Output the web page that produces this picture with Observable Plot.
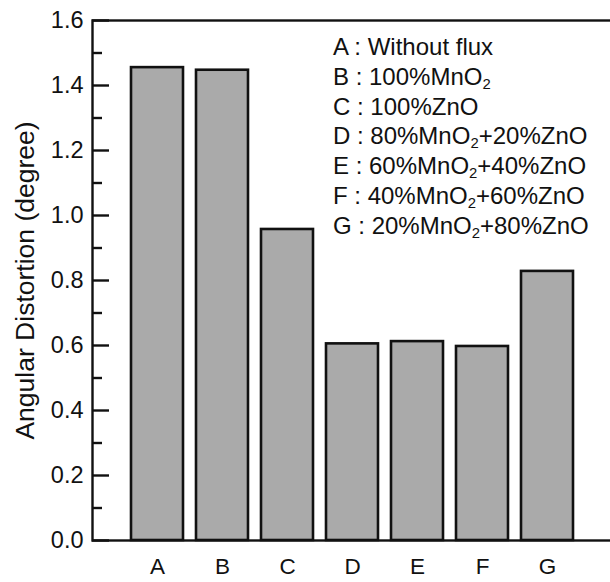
<!DOCTYPE html>
<html><head><meta charset="utf-8">
<script src="https://cdn.jsdelivr.net/npm/d3@7"></script>
<script src="https://cdn.jsdelivr.net/npm/@observablehq/plot@0.6"></script>
<style>
body{margin:0;background:#fff;}
#wrap{position:relative;width:610px;height:582px;font-family:Arial,"Liberation Sans",sans-serif;}
#legend{position:absolute;left:333px;top:32px;font-size:24px;line-height:29.8px;color:#111;white-space:nowrap;}
#legend div{height:29.8px;}
#legend sub{font-size:0.62em;vertical-align:-0.3em;line-height:0;}
</style></head><body><div id="wrap"><div id="legend"></div></div>
<script>
const categories = ["A","B","C","D","E","F","G"];
const values = [1.455, 1.447, 0.957, 0.605, 0.612, 0.597, 0.828];
const legendLabels = ["Without flux","100%MnO2","100%ZnO","80%MnO2+20%ZnO","60%MnO2+40%ZnO","40%MnO2+60%ZnO","20%MnO2+80%ZnO"];
const majorTicks = [0, 0.2, 0.4, 0.6, 0.8, 1.0, 1.2, 1.4, 1.6];
const minorTicks = [0.1, 0.3, 0.5, 0.7, 0.9, 1.1, 1.3, 1.5];
const yLabel = "Angular Distortion (degree)";

const data = categories.map((c, i) => ({cat: c, value: values[i]}));
const font = "Arial, 'Liberation Sans', sans-serif";
const fmt = d3.format(".1f");

const plot = Plot.plot({
  width: 610, height: 582,
  marginLeft: 92, marginRight: -2, marginTop: 20, marginBottom: 42,
  style: {fontFamily: font, fontSize: "22px", color: "#111", background: "transparent"},
  x: {domain: categories, paddingInner: 0.2, paddingOuter: 0.6, align: 0.5, axis: null},
  y: {domain: [0, 1.6], axis: null},
  marks: [
    Plot.barY(data, {x: "cat", y: "value", fill: "#aaaaaa", stroke: "#111", strokeWidth: 2.6}),
    Plot.frame({stroke: "#111", strokeWidth: 2.4}),
    Plot.tickY(majorTicks, {y: d => d, insetRight: 503, stroke: "#111", strokeWidth: 2.4}),
    Plot.tickY(minorTicks, {y: d => d, insetRight: 510, stroke: "#111", strokeWidth: 2.4}),
    Plot.text(majorTicks, {y: d => d, text: d => fmt(d), frameAnchor: "left", dx: -9,
      textAnchor: "end", lineAnchor: "middle", fontSize: 23.5, fill: "#111"}),
    Plot.text(categories, {x: d => d, text: d => d, frameAnchor: "bottom", dy: 18,
      lineAnchor: "top", fontSize: 22.5, fill: "#111"}),
    Plot.text([yLabel], {text: d => d, frameAnchor: "left", dx: -67, rotate: -90,
      textAnchor: "middle", lineAnchor: "middle", fontSize: 26.5, fill: "#111"})
  ]
});
document.getElementById("wrap").prepend(plot);
const leg = document.getElementById("legend");
categories.forEach((c, i) => {
  const div = document.createElement("div");
  div.innerHTML = c + " : " + legendLabels[i].replace(/MnO2/g, "MnO<sub>2</sub>");
  leg.appendChild(div);
});
</script></body></html>
